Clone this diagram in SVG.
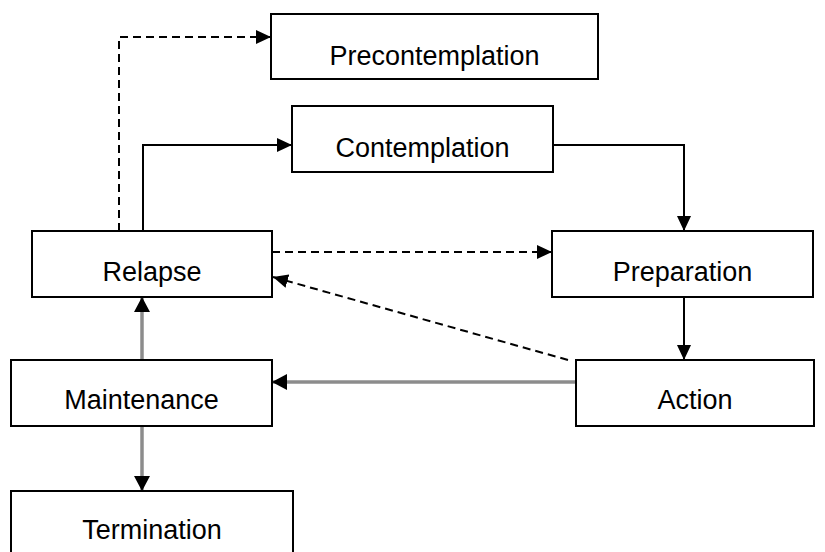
<svg xmlns="http://www.w3.org/2000/svg" width="825" height="552" viewBox="0 0 825 552">
<defs>
<style>
.box{fill:#fff;stroke:#000;stroke-width:2}
.lbl{font-family:"Liberation Sans",Arial,sans-serif;font-size:27px;fill:#000;text-anchor:middle}
.e{fill:none;stroke:#000;stroke-width:2}
.d{stroke-dasharray:8 5}
.g{stroke:#8c8c8c;stroke-width:3.5}
</style>
<marker id="ah" markerUnits="userSpaceOnUse" markerWidth="15" markerHeight="14" refX="15" refY="7" orient="auto"><path d="M0,0 L15,7 L0,14 z" fill="#000"/></marker>
<marker id="ahg" markerUnits="userSpaceOnUse" markerWidth="15" markerHeight="16" refX="15" refY="8" orient="auto"><path d="M0,0 L15,8 L0,16 z" fill="#000"/></marker>
</defs>
<rect width="825" height="552" fill="#fff"/>
<g id="connectors">
<path class="e d" d="M119,231 V37 H271" marker-end="url(#ah)"/>
<path class="e" d="M143,231 V145 H292" marker-end="url(#ah)"/>
<path class="e" d="M553,145 H684 V231" marker-end="url(#ah)"/>
<path class="e d" d="M272,252 H552" marker-end="url(#ah)"/>
<path class="e" d="M684,297 V360" marker-end="url(#ah)"/>
<path class="e d" d="M568,360 L273,277" marker-end="url(#ah)"/>
<path class="e g" d="M576,382 H272" marker-end="url(#ahg)"/>
<path class="e g" d="M142,359 V297" marker-end="url(#ahg)"/>
<path class="e g" d="M142,426 V491" marker-end="url(#ahg)"/>
</g>
<g id="precontemplation"><rect class="box" x="271" y="14" width="327" height="65"/><text class="lbl" x="434.5" y="65">Precontemplation</text></g>
<g id="contemplation"><rect class="box" x="292" y="106" width="261" height="66"/><text class="lbl" x="422.5" y="157">Contemplation</text></g>
<g id="relapse"><rect class="box" x="32" y="231" width="240" height="66"/><text class="lbl" x="152" y="281">Relapse</text></g>
<g id="preparation"><rect class="box" x="552" y="231" width="261" height="66"/><text class="lbl" x="682.5" y="281">Preparation</text></g>
<g id="action"><rect class="box" x="576" y="360" width="238" height="66"/><text class="lbl" x="695" y="409">Action</text></g>
<g id="maintenance"><rect class="box" x="11" y="360" width="261" height="66"/><text class="lbl" x="141.5" y="409">Maintenance</text></g>
<g id="termination"><rect class="box" x="11" y="491" width="282" height="70"/><text class="lbl" x="152" y="539">Termination</text></g>
</svg>
